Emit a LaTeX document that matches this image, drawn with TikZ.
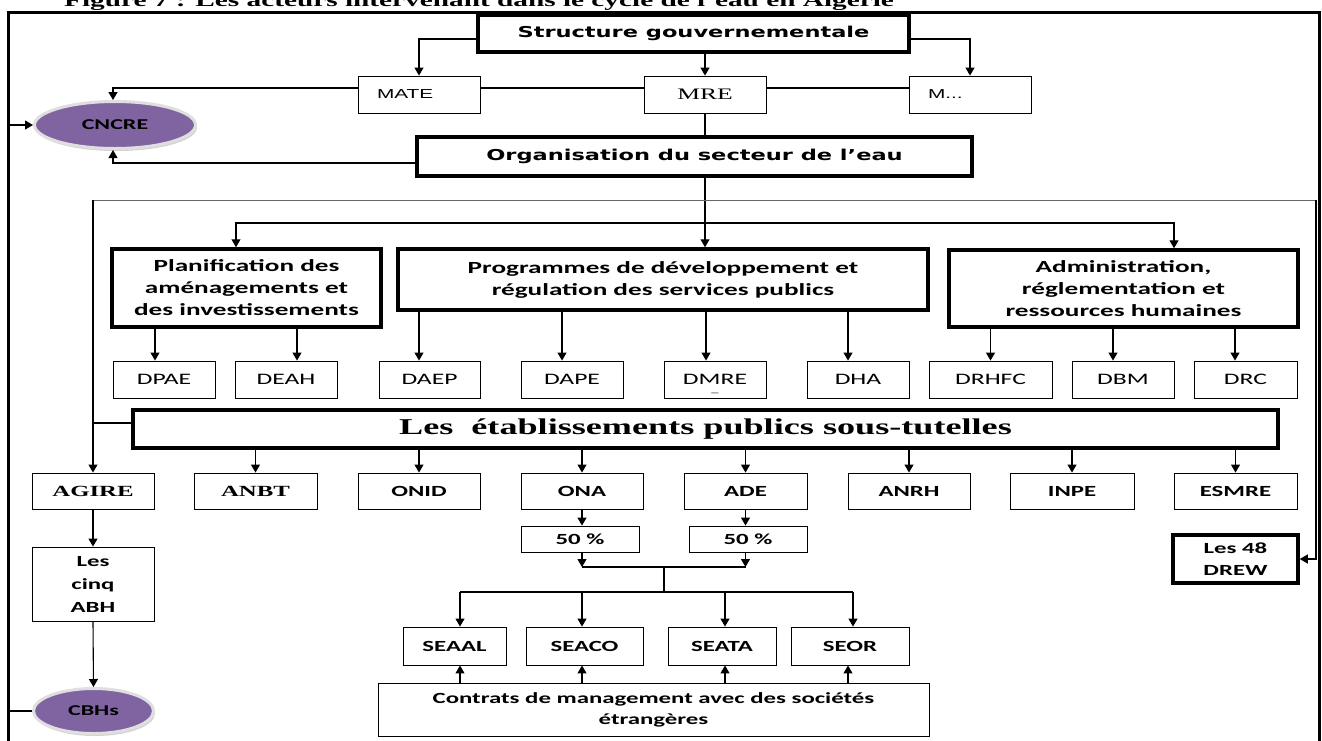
\documentclass[tikz,border=0pt]{standalone}
\usepackage{fontspec}
\setmainfont{Liberation Serif}
\newfontfamily\calfont{Carlito}[FakeStretch=1.6]
\newfontfamily\timfont{Liberation Serif}[FakeStretch=1.6]
\newfontfamily\arifont{Liberation Sans}[FakeStretch=1.6]
\newfontfamily\comfont{DejaVu Sans}[FakeStretch=1.5]
\usetikzlibrary{positioning,calc,arrows.meta,shapes.geometric,shadows}
\definecolor{mauve}{HTML}{8064A2}
\newcommand{\titrebloc}{\calfont\bfseries\fontsize{17}{22}\selectfont}
\newcommand{\sigle}{\calfont\bfseries\fontsize{15.5}{22}\selectfont}
\newcommand{\direc}{\calfont\fontsize{16}{19}\selectfont}
\newcommand{\comic}{\comfont\bfseries\fontsize{15}{18}\selectfont}

\tikzset{
	boite/.style={draw, rectangle, line width=0.9pt, inner sep=0pt, align=center},
	boitegrasse/.style={boite, line width=3.5pt},
	boitegauche/.style={boite, text width=84pt, inner xsep=19pt, align=left},
	bulle/.style={ellipse, draw=gray!25, line width=3pt, fill=mauve, inner sep=0pt, drop shadow={shadow xshift=1.5pt, shadow yshift=-2.5pt, fill=gray!70}},
	fleche/.style={line width=1.1pt, -{Triangle[length=8pt,width=9pt]}},
	lien/.style={line width=1.1pt},
	lienclair/.style={line width=1pt, black!60},
	cadre/.style={line width=3pt},
}

\begin{document}
\begin{tikzpicture}[x=1pt,y=-1pt]
	\useasboundingbox (0,0) rectangle (1322,740);
	\clip (0,0) rectangle (1322,740);
	\node[anchor=base west, inner sep=0pt, font=\timfont\bfseries\fontsize{18.3}{20}\selectfont] (titre) at (64,6) {Figure 7 : Les acteurs intervenant dans le cycle de l’eau en Algérie};
	% cadre
	\draw[cadre] (8,760) -- (8,12) -- (1319,12) -- (1319,760);
	\coordinate (bordg) at (8,0);
	% niveau ministeres
	\node[boitegrasse, minimum width=431, minimum height=37, font=\comic] (struct) at (693.5,33.5) {Structure gouvernementale};
	\node[boitegauche, minimum height=37, font=\arifont\fontsize{13}{15}\selectfont] (mate) at (419,94.5) {MATE};
	\node[boite, minimum width=122, minimum height=37, font=\timfont\fontsize{16}{18}\selectfont] (mre) at (705,94.5) {MRE};
	\node[boitegauche, minimum height=37, font=\arifont\fontsize{13}{15}\selectfont] (mdots) at (970,94.5) {M...};
	\node[bulle, minimum width=161, minimum height=47, font=\calfont\bfseries\fontsize{15}{17}\selectfont] (cncre) at (115,125) {CNCRE};
	\node[boitegrasse, minimum width=555, minimum height=39, font=\comic] (org) at (694.5,156.5) {Organisation du secteur de l’eau};

	\draw[fleche] ([yshift=-5.5pt]struct.west) -| (mate.north);
	\draw[fleche] ([yshift=-5.5pt]struct.east) -| (mdots.north);
	\draw[fleche] (mre.north |- struct.south) -- (mre.north);
	\draw[lien] ([yshift=6.5pt]mate.east) -- ([yshift=6.5pt]mre.west);
	\draw[lien] ([yshift=6.5pt]mre.east) -- ([yshift=6.5pt]mdots.west);
	\draw[fleche] ([yshift=6.5pt]mate.west) -| ([xshift=-2pt]cncre.north);
	\draw[lien] (mre.south) -- (mre.south |- org.north);
	\draw[fleche] ([yshift=-6.5pt]org.west) -| ([xshift=-2pt]cncre.south);
	\draw[fleche] (cncre.west -| bordg) -- (cncre.west);

	% directions centrales
	\node[boitegrasse, minimum width=269, minimum height=78, font=\titrebloc] (plan) at (246.5,288) {Planification des\\ aménagements et\\ des investissements};
	\node[boitegrasse, minimum width=530, minimum height=61, font=\titrebloc] (prog) at (663,279.5) {Programmes de développement et\\ régulation des services publics};
	\node[boitegrasse, minimum width=349, minimum height=77, font=\titrebloc] (admin) at (1123.5,288.5) {Administration,\\ réglementation et\\ ressources humaines};

	\coordinate (emb) at (705,223);
	\draw[fleche] (emb |- org.south) -- (emb |- prog.north);
	\draw[fleche] (emb) -| ([xshift=-10.5pt]plan.north);
	\draw[fleche] (emb) -| ([xshift=50.5pt]admin.north);

	\node[boite, minimum width=102, minimum height=37, font=\direc] (dpae) at (164,379.5) {DPAE};
	\node[boite, minimum width=102, minimum height=37, font=\direc] (deah) at (286,379.5) {DEAH};
	\node[boite, minimum width=101, minimum height=37, font=\direc] (daep) at (429.5,379.5) {DAEP};
	\node[boite, minimum width=102, minimum height=37, font=\direc] (dape) at (572,379.5) {DAPE};
	\node[boite, minimum width=102, minimum height=37, font=\direc, label={[label distance=-9pt, font=\calfont\fontsize{9}{9}\selectfont]below:\_}] (dmre) at (715,379.5) {DMRE};
	\node[boite, minimum width=102, minimum height=37, font=\direc] (dha) at (858,379.5) {DHA};
	\node[boite, minimum width=123, minimum height=37, font=\direc] (drhfc) at (990.5,379.5) {DRHFC};
	\node[boite, minimum width=102, minimum height=37, font=\direc] (dbm) at (1123,379.5) {DBM};
	\node[boite, minimum width=103, minimum height=37, font=\direc] (drc) at (1245.5,379.5) {DRC};

	\draw[fleche] ($(plan.south -| dpae.north)+(-9,0)$) -- ($(dpae.north)+(-9,0)$);
	\draw[fleche] ($(plan.south -| deah.north)+(11,0)$) -- ($(deah.north)+(11,0)$);
	\draw[fleche] ($(prog.south -| daep.north)+(-10.5,0)$) -- ($(daep.north)+(-10.5,0)$);
	\draw[fleche] ($(prog.south -| dape.north)+(-10,0)$) -- ($(dape.north)+(-10,0)$);
	\draw[fleche] ($(prog.south -| dmre.north)+(-9,0)$) -- ($(dmre.north)+(-9,0)$);
	\draw[fleche] ($(prog.south -| dha.north)+(-10,0)$) -- ($(dha.north)+(-10,0)$);
	\draw[fleche] (admin.south -| drhfc.north) -- (drhfc.north);
	\draw[fleche] ($(admin.south -| dbm.north)+(-10,0)$) -- ($(dbm.north)+(-10,0)$);
	\draw[fleche] ($(admin.south -| drc.north)+(-10.5,0)$) -- ($(drc.north)+(-10.5,0)$);

	% etablissements
	\node[boitegrasse, minimum width=1145, minimum height=38, font=\timfont\bfseries\fontsize{22.6}{24}\selectfont] (etab) at (705.5,429) {Les\ \ établissements publics sous-tutelles};
	\node[boite, minimum width=122, minimum height=36, font=\timfont\bfseries\fontsize{15.5}{17}\selectfont] (agire) at (93,491) {AGIRE};
	\node[boite, minimum width=123, minimum height=36, font=\timfont\bfseries\fontsize{15.5}{17}\selectfont] (anbt) at (255.5,491) {ANBT};
	\node[boite, minimum width=122, minimum height=36, font=\sigle] (onid) at (419,491) {ONID};
	\node[boite, minimum width=122, minimum height=36, font=\sigle] (ona) at (582,491) {ONA};
	\node[boite, minimum width=123, minimum height=36, font=\sigle] (ade) at (745.5,491) {ADE};
	\node[boite, minimum width=122, minimum height=36, font=\sigle] (anrh) at (909,491) {ANRH};
	\node[boite, minimum width=124, minimum height=36, font=\sigle] (inpe) at (1072,491) {INPE};
	\node[boite, minimum width=123, minimum height=36, font=\sigle] (esmre) at (1235.5,491) {ESMRE};
	\node[boitegrasse, minimum width=125, minimum height=48, font=\sigle] (drew) at (1235.5,559) {Les 48\\ DREW};

	\coordinate (gauche) at (93,200);
	\coordinate (droite) at (1316,200);
	\draw[lienclair] (gauche) -- (droite);
	\draw[fleche] (gauche) -- (agire.north);
	\draw[fleche] (droite) |- (drew.east);
	\draw[lien] ([yshift=6pt]etab.west) -- ($(etab.west -| gauche)+(0,-6)$);
	\draw[fleche] (etab.south -| anbt.north) -- (anbt.north);
	\draw[fleche] (etab.south -| onid.north) -- (onid.north);
	\draw[fleche] (etab.south -| ona.north) -- (ona.north);
	\draw[fleche] (etab.south -| ade.north) -- (ade.north);
	\draw[fleche] (etab.south -| anrh.north) -- (anrh.north);
	\draw[fleche] (etab.south -| inpe.north) -- (inpe.north);
	\draw[fleche] (etab.south -| esmre.north) -- (esmre.north);

	% bassins
	\node[boite, minimum width=122, minimum height=74, font=\calfont\bfseries\fontsize{15.5}{23}\selectfont] (abh) at (93,584) {Les\\ cinq\\ ABH};
	\node[bulle, minimum width=120, minimum height=45, font=\calfont\bfseries\fontsize{15}{17}\selectfont] (cbh) at (93.5,711) {CBHs};
	\draw[fleche] (agire.south) -- (abh.north);
	\draw[fleche] (abh.south) -- (cbh.north);
	\draw[lien] (cbh.west -| bordg) -- (cbh.west);

	% societes de gestion
	\node[boite, minimum width=118, minimum height=26, font=\sigle] (pona) at (580,539) {50 \%};
	\node[boite, minimum width=118, minimum height=26, font=\sigle] (pade) at (748,539) {50 \%};
	\coordinate (jonc) at (664,567);
	\coordinate (rep) at (664,592);
	\draw[fleche] (ona.south) -- (ona.south |- pona.north);
	\draw[fleche] (ade.south) -- (ade.south |- pade.north);
	\draw[fleche] (pona.south -| ona.south) -- (ona.south |- jonc);
	\draw[fleche] (pade.south -| ade.south) -- (ade.south |- jonc);
	\draw[lien] (ona.south |- jonc) -- (ade.south |- jonc);
	\draw[lien] (jonc) -- (rep);

	\node[boite, minimum width=103, minimum height=38, font=\sigle] (seaal) at (454.5,646) {SEAAL};
	\node[boite, minimum width=117, minimum height=38, font=\sigle] (seaco) at (584.5,646) {SEACO};
	\node[boite, minimum width=108, minimum height=38, font=\sigle] (seata) at (722,646) {SEATA};
	\node[boite, minimum width=118, minimum height=38, font=\sigle] (seor) at (850,646) {SEOR};
	\node[boite, minimum width=551, minimum height=53, font=\calfont\bfseries\fontsize{15.5}{21}\selectfont] (contrat) at (653.5,709.5) {Contrats de management avec des sociétés\\ étrangères};

	\draw[lien] ($(rep -| seaal.north)+(5.5,0)$) -- ($(rep -| seor.north)+(3,0)$);
	\draw[fleche] ($(rep -| seaal.north)+(5.5,0)$) -- ($(seaal.north)+(5.5,0)$);
	\draw[fleche] ($(rep -| seaco.north)+(-2.5,0)$) -- ($(seaco.north)+(-2.5,0)$);
	\draw[fleche] ($(rep -| seata.north)+(3,0)$) -- ($(seata.north)+(3,0)$);
	\draw[fleche] ($(rep -| seor.north)+(3,0)$) -- ($(seor.north)+(3,0)$);
	\draw[fleche] ($(contrat.north -| seaal.south)+(5.5,0)$) -- ($(seaal.south)+(5.5,0)$);
	\draw[fleche] ($(contrat.north -| seaco.south)+(-2.5,0)$) -- ($(seaco.south)+(-2.5,0)$);
	\draw[fleche] ($(contrat.north -| seata.south)+(3,0)$) -- ($(seata.south)+(3,0)$);
	\draw[fleche] ($(contrat.north -| seor.south)+(-2,0)$) -- ($(seor.south)+(-2,0)$);
\end{tikzpicture}
\end{document}
